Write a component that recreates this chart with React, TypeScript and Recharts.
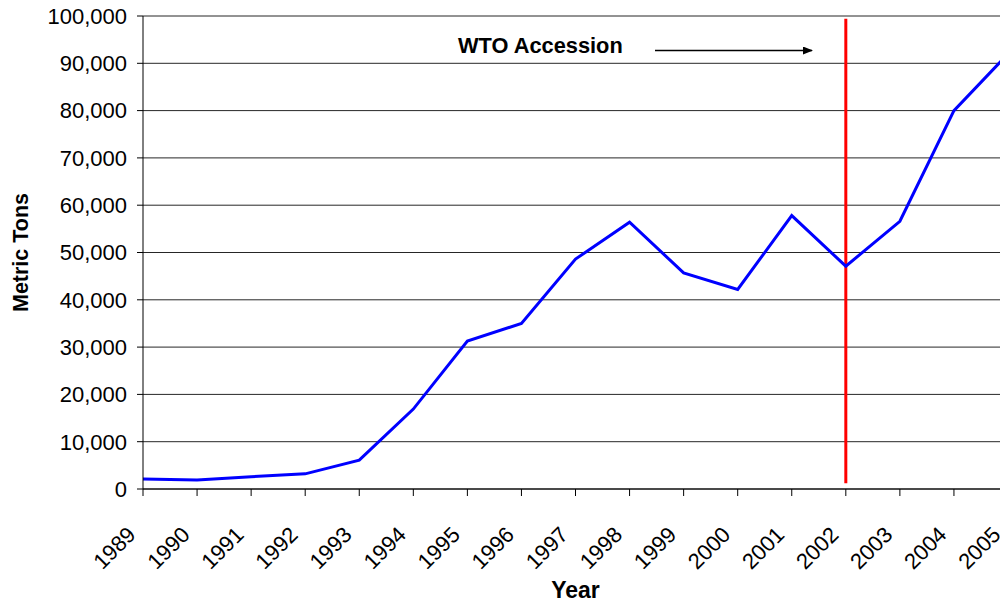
import { LineChart, Line, XAxis, YAxis, CartesianGrid, ReferenceLine } from 'recharts';

const years = [
  '1989', '1990', '1991', '1992', '1993', '1994', '1995', '1996', '1997',
  '1998', '1999', '2000', '2001', '2002', '2003', '2004', '2005',
];

const metricTons = [
  2100, 1900, 2600, 3200, 6100, 16900, 31300, 35000, 48600,
  56400, 45700, 42200, 57800, 47100, 56600, 80000, 92000,
];

const yTicks = [0, 10000, 20000, 30000, 40000, 50000, 60000, 70000, 80000, 90000, 100000];

const accessionYear = '2002';

const data = years.map((year, i) => ({ year, tons: metricTons[i] }));

const FONT = 'Arial, "Liberation Sans", sans-serif';

function YearTick(props: any) {
  const { x, y, payload } = props;
  return (
    <g transform={`translate(${x - 6},${y + 38})`}>
      <text
        textAnchor="end"
        transform="rotate(-45)"
        fontFamily={FONT}
        fontSize={22}
        fill="#000"
      >
        {payload.value}
      </text>
    </g>
  );
}

export default function App() {
  return (
    <div style={{ position: 'absolute', left: 0, top: 0, width: 1000, height: 602, overflow: 'hidden', background: '#fff' }}>
      <LineChart
        width={1008}
        height={602}
        data={data}
        margin={{ top: 16, right: 0, bottom: 0, left: 0 }}
      >
        <CartesianGrid vertical={false} stroke="#000" strokeOpacity={0.85} />
        <XAxis
          dataKey="year"
          stroke="#000"
          tickLine={{ stroke: '#000' }}
          tickSize={7}
          height={113}
          interval={0}
          tick={<YearTick />}
          label={{
            value: 'Year',
            position: 'insideBottom',
            offset: 4,
            style: { fontFamily: FONT, fontSize: 23, fontWeight: 'bold', fill: '#000' },
          }}
        />
        <YAxis
          type="number"
          domain={[0, 100000]}
          ticks={yTicks}
          width={143}
          stroke="#000"
          tickSize={6}
          tickMargin={10}
          tickFormatter={(v: number) => v.toLocaleString('en-US')}
          tick={{ fontFamily: FONT, fontSize: 22, fill: '#000' }}
          label={{
            value: 'Metric Tons',
            angle: -90,
            position: 'insideLeft',
            offset: 20,
            style: { fontFamily: FONT, fontSize: 21.5, fontWeight: 'bold', fill: '#000', textAnchor: 'middle' },
          }}
        />
        <ReferenceLine
          segment={[
            { x: accessionYear, y: 99400 },
            { x: accessionYear, y: 1200 },
          ]}
          stroke="#ff0000"
          strokeWidth={3}
        />
        <Line
          type="linear"
          dataKey="tons"
          stroke="#0000ff"
          strokeWidth={3}
          dot={false}
          isAnimationActive={false}
        />
      </LineChart>
      <svg
        width={1000}
        height={602}
        style={{ position: 'absolute', left: 0, top: 0, pointerEvents: 'none' }}
      >
        <defs>
          <marker id="arrowHead" markerWidth="10" markerHeight="8" refX="9" refY="4" orient="auto" markerUnits="userSpaceOnUse">
            <path d="M0,0 L10,4 L0,8 Z" fill="#000" />
          </marker>
        </defs>
        <text x={458} y={53} fontFamily={FONT} fontSize={21.8} fontWeight="bold" fill="#000">
          WTO Accession
        </text>
        <line x1={655} y1={50.5} x2={812} y2={50.5} stroke="#000" strokeWidth={1.5} markerEnd="url(#arrowHead)" />
      </svg>
    </div>
  );
}
